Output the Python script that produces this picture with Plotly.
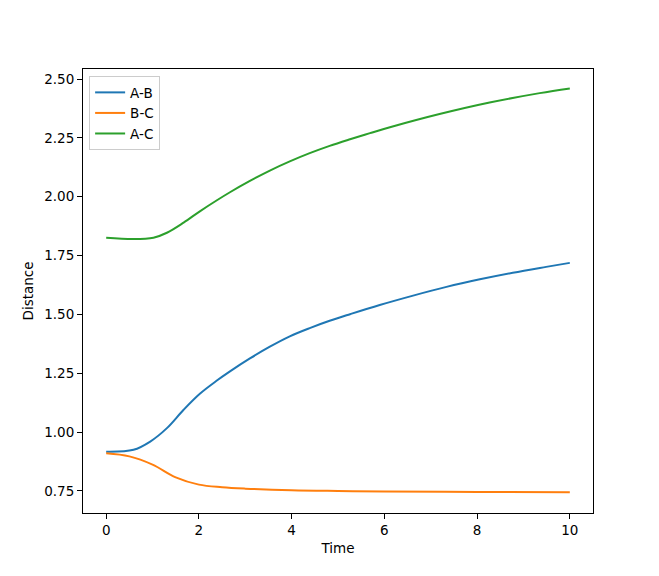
import plotly.graph_objects as go

# Data
t_ab = [0.0, 0.59, 0.95, 1.31, 1.67, 2.02, 2.38, 2.67, 3.10, 3.53, 3.96, 4.39, 4.82, 5.26, 5.90, 6.62, 7.34, 8.06, 8.77, 9.49, 10.0]
ab = [0.917, 0.925, 0.960, 1.017, 1.095, 1.163, 1.218, 1.258, 1.313, 1.363, 1.407, 1.442, 1.473, 1.501, 1.540, 1.580, 1.617, 1.649, 1.677, 1.702, 1.719]

t_bc = [0.0, 0.5, 1.0, 1.5, 2.0, 2.5, 3.0, 4.0, 5.0, 6.0, 8.0, 10.0]
bc = [0.910, 0.897, 0.862, 0.808, 0.777, 0.766, 0.760, 0.753, 0.750, 0.748, 0.746, 0.745]

t_ac = [0.0, 0.59, 1.02, 1.31, 1.67, 2.02, 2.38, 2.67, 3.10, 3.53, 3.96, 4.39, 4.82, 5.26, 5.69, 6.12, 7.19, 8.27, 9.35, 10.0]
ac = [1.826, 1.820, 1.826, 1.847, 1.890, 1.938, 1.984, 2.019, 2.067, 2.111, 2.150, 2.185, 2.216, 2.244, 2.270, 2.295, 2.351, 2.400, 2.440, 2.460]

names = ["A-B", "B-C", "A-C"]
colors = ["#1f77b4", "#ff7f0e", "#2ca02c"]

x_ticks = [0, 2, 4, 6, 8, 10]
y_ticks = [0.75, 1.00, 1.25, 1.50, 1.75, 2.00, 2.25, 2.50]
y_tick_text = ["0.75", "1.00", "1.25", "1.50", "1.75", "2.00", "2.25", "2.50"]

fig = go.Figure()
for t, v, n, c in zip([t_ab, t_bc, t_ac], [ab, bc, ac], names, colors):
    fig.add_trace(go.Scatter(x=t, y=v, mode="lines", name=n,
                             line=dict(color=c, width=2, shape="spline", smoothing=1.0)))

font = dict(family="DejaVu Sans", size=13.5, color="black")
axis_common = dict(showline=True, linecolor="black", linewidth=1.1, mirror=True,
                   ticks="outside", ticklen=5, tickwidth=1.1, tickcolor="black",
                   showgrid=False, zeroline=False, tickfont=font)

fig.update_layout(
    width=659, height=576,
    margin=dict(l=75, r=74, t=61, b=71),
    paper_bgcolor="white", plot_bgcolor="white",
    font=font,
    showlegend=True,
    legend=dict(x=0.012, y=0.984, xanchor="left", yanchor="top",
                bgcolor="rgba(255,255,255,0.8)", bordercolor="#cccccc", borderwidth=1,
                font=font, itemwidth=30, tracegroupgap=0),
    xaxis=dict(range=[-0.5, 10.5], tickvals=x_ticks,
               title=dict(text="Time", font=font, standoff=6), **axis_common),
    yaxis=dict(range=[0.6565, 2.5425], tickvals=y_ticks, ticktext=y_tick_text,
               title=dict(text="Distance", font=font, standoff=7), **axis_common),
)

fig.write_html("out.html")
